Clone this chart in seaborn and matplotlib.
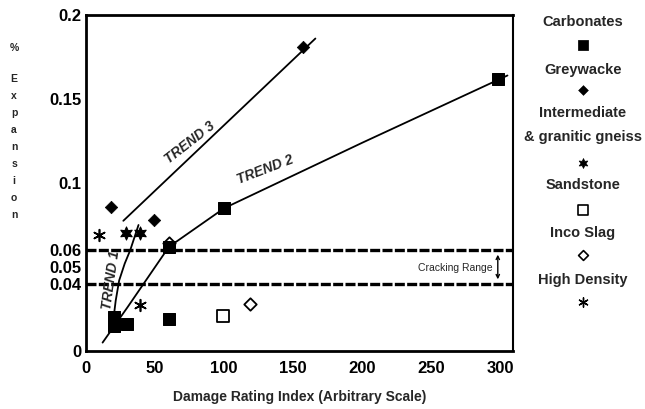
import matplotlib
matplotlib.use("Agg")
import matplotlib.pyplot as plt
import seaborn as sns
import pandas as pd
import numpy as np

sns.set_theme(style="white")
plt.rcParams['font.family'] = ['Liberation Sans', 'DejaVu Sans']

# ---- data ----
carb_x = [20, 20, 30, 60, 60, 100, 298]
carb_y = [0.020, 0.015, 0.016, 0.019, 0.062, 0.085, 0.162]
grey_x = [18, 49, 157]
grey_y = [0.086, 0.078, 0.181]
gneiss_x = [29, 39]
gneiss_y = [0.070, 0.070]
sand_x = [99]
sand_y = [0.021]
inco_x = [119, 60]
inco_y = [0.028, 0.064]
hd_x = [9.5, 39]
hd_y = [0.069, 0.0275]

trend1_x = [19.5, 20, 21.5, 24, 28, 32, 38]
trend1_y = [0.012, 0.020, 0.030, 0.042, 0.052, 0.060, 0.075]
trend2_x = [12, 30, 60, 100, 200, 305]
trend2_y = [0.005, 0.026, 0.062, 0.085, 0.124, 0.164]
trend3_x = [27, 166]
trend3_y = [0.0775, 0.186]

crack_low, crack_high = 0.04, 0.06

xticks = [0, 50, 100, 150, 200, 250, 300]
yticks = [0, 0.04, 0.05, 0.06, 0.1, 0.15, 0.2]
ytick_labels = ["0", "0.04", "0.05", "0.06", "0.1", "0.15", "0.2"]

legend_labels = ["Carbonates", "Greywacke", "Intermediate\n& granitic gneiss",
                 "Sandstone", "Inco Slag", "High Density"]

fig = plt.figure(figsize=(6.45, 4.09), dpi=100)
ax = fig.add_axes([86/645, 1-351/409, (513-86)/645, (351-15)/409])

# trend lines
for tx, ty in [(trend1_x, trend1_y), (trend2_x, trend2_y), (trend3_x, trend3_y)]:
    sns.lineplot(x=tx, y=ty, ax=ax, color='black', lw=1.3, sort=False, zorder=2)

# cracking range
for yv in (crack_low, crack_high):
    ax.axhline(yv, color='black', lw=2.4, ls=(0, (3, 0.7)), zorder=1)

# points
star6 = (6, 1, 0)
ast6 = (6, 2, 0)
sns.scatterplot(x=inco_x, y=inco_y, ax=ax, marker='D', s=40, facecolor='white', edgecolor='black', linewidth=1.3, zorder=2.5)
sns.scatterplot(x=carb_x, y=carb_y, ax=ax, marker='s', s=80, color='black', edgecolor='black', zorder=3)
sns.scatterplot(x=grey_x, y=grey_y, ax=ax, marker='D', s=40, color='black', edgecolor='black', zorder=3)
sns.scatterplot(x=gneiss_x, y=gneiss_y, ax=ax, marker=star6, s=90, color='black', edgecolor='black', zorder=3)
sns.scatterplot(x=sand_x, y=sand_y, ax=ax, marker='s', s=80, facecolor='white', edgecolor='black', linewidth=1.3, zorder=3)
sns.scatterplot(x=hd_x, y=hd_y, ax=ax, marker=ast6, s=70, color='black', edgecolor='black', linewidth=1.2, zorder=3)

# trend labels
lab_kw = dict(fontsize=10, fontweight='bold', fontstyle='italic', ha='center', va='center')
ax.text(75, 0.124, "TREND 3", rotation=38, **lab_kw)
ax.text(130, 0.108, "TREND 2", rotation=21, **lab_kw)
ax.text(18.5, 0.042, "TREND 1", rotation=82, **lab_kw)

ax.text(294, 0.0495, "Cracking Range", fontsize=7.5, ha='right', va='center')
ax.annotate("", xy=(298, crack_low + 0.001), xytext=(298, crack_high - 0.001),
            arrowprops=dict(arrowstyle='<->', lw=1.0, color='black', mutation_scale=6))

ax.set_xlim(0, 309)
ax.set_ylim(0, 0.2)
ax.set_xticks(xticks)
ax.set_xticklabels([str(v) for v in xticks])
ax.set_yticks(yticks)
ax.set_yticklabels(ytick_labels)
ax.set_xticks(np.arange(25, 310, 50), minor=True)
ax.set_yticks([0.025, 0.075, 0.125, 0.175], minor=True)
ax.tick_params(axis='both', which='major', direction='in', length=6, width=1.2,
               labelsize=12, colors='black', pad=4)
ax.tick_params(axis='both', which='minor', direction='in', length=3, width=1.0)
ax.tick_params(axis='x', pad=7)
ax.tick_params(axis='y', pad=3)
for lbl in ax.get_xticklabels() + ax.get_yticklabels():
    lbl.set_fontweight('bold')
ax.set_xlabel("Damage Rating Index (Arbitrary Scale)", fontsize=10, fontweight='bold', labelpad=10)
ax.set_ylabel("")
for side, sp in ax.spines.items():
    sp.set_color('black')
    sp.set_linewidth(2.0 if side in ('left', 'bottom', 'top') else 1.5)

# vertical y label
ylab_chars = ["%", "E", "x", "p", "a", "n", "s", "i", "o", "n"]
ylab_pos = [48, 79, 96, 113, 130, 147, 164, 181, 198, 215]
for ch, py in zip(ylab_chars, ylab_pos):
    fig.text(14/645, 1-py/409, ch, fontsize=7.5, fontweight='bold', ha='center', va='center')

# right-side legend
lax = fig.add_axes([0, 0, 1, 1])
lax.set_xlim(0, 645)
lax.set_ylim(409, 0)
lax.axis('off')
lax.patch.set_alpha(0)
leg_text_y = [22, 70, 113, 185, 233, 280]
leg_text_y2 = 137
for lbl, py in zip(legend_labels, leg_text_y):
    parts = lbl.split("\n")
    lax.text(583, py, parts[0], fontsize=10.5, fontweight='bold', ha='center', va='center')
    if len(parts) > 1:
        lax.text(583, leg_text_y2, parts[1], fontsize=10.5, fontweight='bold', ha='center', va='center')
sns.scatterplot(x=[583], y=[45], ax=lax, marker='s', s=45, color='black', edgecolor='black')
sns.scatterplot(x=[583], y=[90], ax=lax, marker='D', s=25, color='black', edgecolor='black')
sns.scatterplot(x=[583], y=[163], ax=lax, marker=star6, s=50, color='black', edgecolor='black')
sns.scatterplot(x=[583], y=[210], ax=lax, marker='s', s=45, facecolor='white', edgecolor='black', linewidth=1.2)
sns.scatterplot(x=[583], y=[255], ax=lax, marker='D', s=25, facecolor='white', edgecolor='black', linewidth=1.2)
sns.scatterplot(x=[583], y=[302], ax=lax, marker=ast6, s=45, color='black', edgecolor='black', linewidth=1.0)

fig.savefig("out.png", dpi=100)
